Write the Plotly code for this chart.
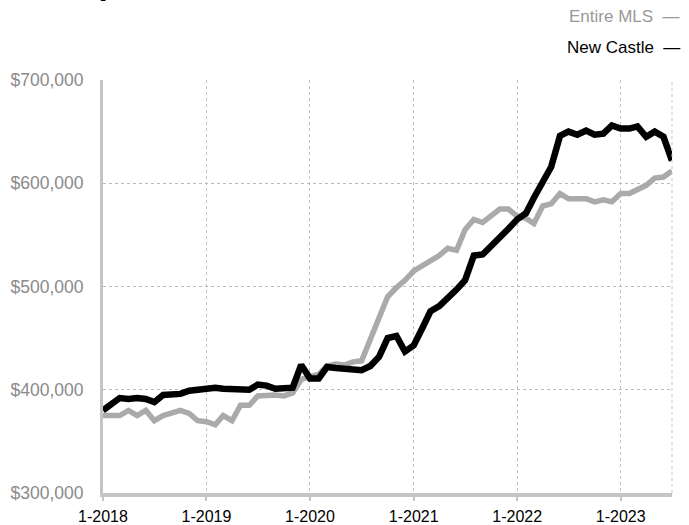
import plotly.graph_objects as go

months = [f"{y}-{m:02d}-01" for y in range(2018, 2024) for m in range(1, 13)][:67]

new_castle = [
    380, 386, 392, 391, 392, 391, 388, 395, 395, 396, 399, 400,
    401, 402, 401, 401, 401, 400, 405, 404, 401, 401, 402, 424,
    411, 411, 422, 421, 420, 420, 419, 423, 432, 450, 452, 437,
    443, 460, 476, 481, 488, 497, 506, 530, 531, 540, 549, 556,
    565, 571, 586, 601, 616, 646, 650, 647, 651, 647, 648, 656,
    653, 653, 655, 645, 650, 645, 622,
]
entire_mls = [
    375, 375, 375, 380, 375, 380, 370, 375, 378, 380, 377, 370,
    369, 366, 375, 370, 385, 385, 394, 395, 395, 394, 397, 410,
    412, 415, 423, 425, 424, 427, 428, 450, 470, 490, 499, 506,
    515, 520, 524, 530, 537, 535, 555, 565, 562, 568, 575, 575,
    568, 566, 561, 578, 580, 590, 585, 585, 585, 582, 584, 582,
    590, 590, 594, 598, 605, 606, 612,
]
new_castle = [v * 1000 for v in new_castle]
entire_mls = [v * 1000 for v in entire_mls]

year_ticks = ["2018-01-01", "2019-01-01", "2020-01-01", "2021-01-01", "2022-01-01", "2023-01-01"]
year_labels = ["1-2018", "1-2019", "1-2020", "1-2021", "1-2022", "1-2023"]
y_ticks = [300000, 400000, 500000, 600000, 700000]
y_labels = ["$300,000", "$400,000", "$500,000", "$600,000", "$700,000"]

FONT = "Liberation Sans"
GRAY = "#aaaaaa"

fig = go.Figure()
fig.add_trace(go.Scatter(x=months, y=entire_mls, mode="lines", name="Entire MLS",
                         line=dict(color=GRAY, width=5.5), showlegend=False))
fig.add_trace(go.Scatter(x=months, y=new_castle, mode="lines", name="New Castle",
                         line=dict(color="#000000", width=6.5), showlegend=False))

fig.update_layout(
    width=689, height=525,
    margin=dict(l=103, r=17, t=80, b=32),
    paper_bgcolor="white", plot_bgcolor="white",
    font=dict(family=FONT, size=16, color="#000"),
    xaxis=dict(
        type="date", range=["2018-01-01", "2023-07-01"],
        tickvals=year_ticks, ticktext=year_labels,
        showgrid=True, gridcolor="#c4c4c4", griddash="dot", gridwidth=1,
        showline=True, linecolor="#c4c4c4", linewidth=4,
        ticks="outside", ticklen=4, tickwidth=2, tickcolor="#c4c4c4",
        ticklabelstandoff=2,
        tickfont=dict(family=FONT, size=16, color="#000"),
        zeroline=False, automargin=False,
    ),
    yaxis=dict(
        range=[300000, 700000],
        tickvals=y_ticks, ticktext=y_labels,
        showgrid=True, gridcolor="#bbbbbb", griddash="dot", gridwidth=1,
        showline=True, linecolor="#c4c4c4", linewidth=3,
        ticks="", ticklabelstandoff=13,
        tickfont=dict(family=FONT, size=17.5, color="#8a8a8a"),
        zeroline=False, automargin=False,
    ),
    shapes=[dict(type="line", xref="paper", yref="paper", x0=1, x1=1, y0=0, y1=1,
                 line=dict(color="#c4c4c4", width=1, dash="dot"))],
    annotations=[
        dict(text="Entire MLS  \u2014", xref="paper", yref="paper",
             x=(682 - 103) / 569, y=(493 - 17) / 413, xanchor="right", yanchor="middle",
             showarrow=False, font=dict(family=FONT, size=17, color="#999999")),
        dict(text="New Castle  \u2014", xref="paper", yref="paper",
             x=(682 - 103) / 569, y=(493 - 47) / 413, xanchor="right", yanchor="middle",
             showarrow=False, font=dict(family=FONT, size=17, color="#000000")),
        dict(text="Rolling 12 Month Calculation", xref="paper", yref="paper",
             x=(54 - 103) / 569, y=(493 - 4) / 413, xanchor="left", yanchor="bottom",
             showarrow=False, font=dict(family=FONT, size=17, color="#000000")),
    ],
)

fig.write_html("out.html", config={"displayModeBar": False},
               post_script="document.body.style.margin='0';document.body.style.overflow='hidden';")
